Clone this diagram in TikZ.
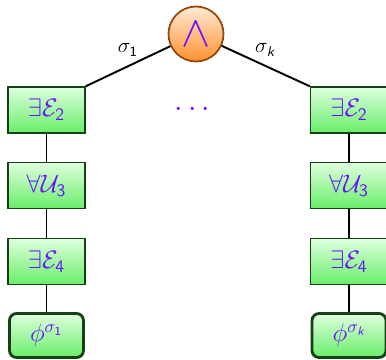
\documentclass[tikz,border=0pt]{standalone}
\usepackage{tikz}
\usetikzlibrary{shapes.geometric,calc}
\usepackage{xcolor}
\usepackage{amsmath}
\definecolor{qText}{RGB}{104,16,255}
\definecolor{qFillTop}{RGB}{222,255,222}
\definecolor{qFillBot}{RGB}{105,238,105}
\definecolor{qBorder}{RGB}{22,64,22}
\definecolor{andTop}{RGB}{255,234,212}
\definecolor{andBot}{RGB}{255,146,48}
\definecolor{andBorder}{RGB}{150,70,10}
\newcommand{\sfit}[1]{\text{\sffamily\itshape #1}}
\tikzset{
    every node/.append style={align=center},
    quant/.style={rectangle,draw=qBorder,thick,top color=qFillTop,bottom color=qFillBot,
        minimum width=1.54cm,minimum height=0.92cm,inner sep=1pt,text=qText,font=\Large},
    leaf/.style={quant,line width=1.6pt,rounded corners=4pt,minimum width=1.48cm,minimum height=0.88cm},
    conj/.style={circle,draw=andBorder,line width=1pt,top color=andTop,bottom color=andBot,
        minimum size=1.1cm,inner sep=0pt,text=qText,font=\fontsize{30}{30}\selectfont},
    edge/.style={line width=1.1pt,black},
    lbl/.style={font=\large}
}

\begin{document}
\begin{tikzpicture}
    \useasboundingbox (0,0) rectangle (7.72,7.18);

    \node[conj] (and) at (3.92,6.5) {$\wedge$};

    % left branch
    \node[quant] (e2l)  at (0.93,4.98) {$\exists\mathcal{E}_{\mathsf{2}}$};
    \node[quant] (u3l)  at (0.93,3.47) {$\forall\mathcal{U}_{\mathsf{3}}$};
    \node[quant] (e4l)  at (0.93,1.95) {$\exists\mathcal{E}_{\mathsf{4}}$};
    \node[leaf]  (phil) at (0.93,0.47) {$\phi^{\sigma_{\mathsf{1}}}$};

    % right branch
    \node[quant] (e2r)  at (6.98,4.98) {$\exists\mathcal{E}_{\mathsf{2}}$};
    \node[quant] (u3r)  at (6.98,3.47) {$\forall\mathcal{U}_{\mathsf{3}}$};
    \node[quant] (e4r)  at (6.98,1.95) {$\exists\mathcal{E}_{\mathsf{4}}$};
    \node[leaf]  (phir) at (6.98,0.47) {$\phi^{\sigma_{\sfit{k}}}$};

    \node[text=qText,font=\LARGE] (dots) at (3.90,4.98) {$\cdots$};

    \draw[edge] (and) -- (e2l.north east);
    \draw[edge] (and) -- (e2r.north west);
    \node[lbl] (s1) at (2.56,6.18) {$\sigma_{\mathsf{1}}$};
    \node[lbl] (sk) at (5.30,6.18) {$\sigma_{\sfit{k}}$};

    \foreach \a/\b in {e2l/u3l,u3l/e4l,e4l/phil,e2r/u3r,u3r/e4r,e4r/phir} { \draw[edge] (\a) -- (\b); }
\end{tikzpicture}
\end{document}
